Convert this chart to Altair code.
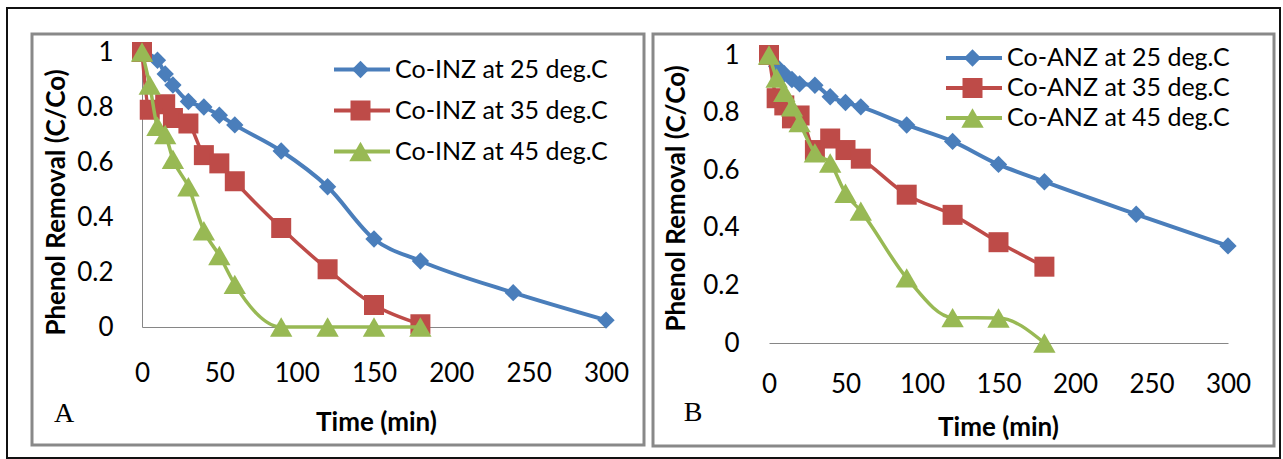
import altair as alt
import pandas as pd

# ---------------- data ----------------
names_A = ["Co-INZ at 25 deg.C", "Co-INZ at 35 deg.C", "Co-INZ at 45 deg.C"]
time_A25 = [0, 10, 15, 20, 30, 40, 50, 60, 90, 120, 150, 180, 240, 300]
val_A25 = [1.00, 0.97, 0.92, 0.88, 0.82, 0.80, 0.77, 0.735, 0.64, 0.51, 0.32, 0.24, 0.125, 0.025]
time_A35 = [0, 5, 15, 20, 30, 40, 50, 60, 90, 120, 150, 180]
val_A35 = [1.00, 0.79, 0.81, 0.76, 0.74, 0.625, 0.595, 0.53, 0.36, 0.21, 0.08, 0.01]
time_A45 = [0, 5, 10, 15, 20, 30, 40, 50, 60, 90, 120, 150, 180]
val_A45 = [1.00, 0.88, 0.73, 0.70, 0.61, 0.51, 0.35, 0.26, 0.155, 0.0, 0.0, 0.0, 0.0]

names_B = ["Co-ANZ at 25 deg.C", "Co-ANZ at 35 deg.C", "Co-ANZ at 45 deg.C"]
time_B25 = [0, 5, 10, 15, 20, 30, 40, 50, 60, 90, 120, 150, 180, 240, 300]
val_B25 = [1.00, 0.96, 0.935, 0.915, 0.90, 0.895, 0.855, 0.835, 0.82, 0.757, 0.70, 0.62, 0.56, 0.447, 0.337]
time_B35 = [0, 5, 10, 15, 20, 30, 40, 50, 60, 90, 120, 150, 180]
val_B35 = [1.00, 0.85, 0.825, 0.78, 0.79, 0.67, 0.71, 0.67, 0.64, 0.515, 0.445, 0.35, 0.265]
time_B45 = [0, 5, 10, 15, 20, 30, 40, 50, 60, 90, 120, 150, 180]
val_B45 = [1.00, 0.92, 0.87, 0.82, 0.765, 0.66, 0.625, 0.52, 0.458, 0.226, 0.088, 0.087, 0.0]

x_ticks = [0, 50, 100, 150, 200, 250, 300]
y_ticks = [0, 0.2, 0.4, 0.6, 0.8, 1.0]

colors = ["#4A7EBB", "#BE4B48", "#98B954"]
shapes = ["diamond", "square", "triangle-up"]
sizes = [300, 500, 480]
line_w = [4, 3.5, 3.5]
keys = ["m0", "m1", "m2"]

FONT = "Lato"


def make_df(names, times, values):
    rows = []
    for i, (n, ts, vs) in enumerate(zip(names, times, values)):
        for t, v in zip(ts, vs):
            rows.append({"series": n, "key": keys[i], "time": t, "value": v})
    return pd.DataFrame(rows)


df_A = make_df(names_A, [time_A25, time_A35, time_A45], [val_A25, val_A35, val_A45])
df_B = make_df(names_B, [time_B25, time_B35, time_B45], [val_B25, val_B35, val_B45])

one = pd.DataFrame({"a": [0]})


def panel(df, names, width, height, ymax, xaxis_kw, yaxis_kw, leg_line_kw, leg_mark_kw,
          frame, letter, letter_xy, outer=None):
    x = alt.X("time:Q", scale=alt.Scale(domain=[0, 300], nice=False, zero=False),
              axis=alt.Axis(values=x_ticks, ticks=False, tickSize=0, grid=False,
                            domainColor="#868686", domainWidth=1,
                            labelFont=FONT, labelFontSize=26, labelColor="black",
                            labelBaseline="middle", labelFlush=False,
                            title="Time (min)", titleFont=FONT, titleFontSize=26,
                            titleFontWeight="bold", titleColor="black",
                            titleAlign="center", titleBaseline="middle", **xaxis_kw))
    y = alt.Y("value:Q", scale=alt.Scale(domain=[0, ymax], nice=False, zero=False),
              axis=alt.Axis(values=y_ticks, format=".1~f", ticks=False, tickSize=0, grid=False,
                            domainColor="#868686", domainWidth=1,
                            labelFont=FONT, labelFontSize=26, labelColor="black",
                            labelFlush=False,
                            title="Phenol Removal (C/Co)", titleFont=FONT, titleFontSize=26,
                            titleFontWeight="bold", titleColor="black", titleAngle=270,
                            titleAlign="center", titleBaseline="middle", **yaxis_kw))
    leg_line = alt.Legend(orient="none", title=None, symbolType="stroke", symbolSize=3136,
                          symbolStrokeWidth=4, rowPadding=0, padding=0,
                          labelFont=FONT, labelFontSize=25, labelColor="black",
                          labelLimit=400, labelOffset=3, **leg_line_kw)
    leg_mark = alt.Legend(orient="none", title=None, rowPadding=0, padding=0,
                          labelExpr="''", symbolStrokeWidth=0, symbolOpacity=1,
                          **leg_mark_kw)
    layers = []
    if outer is not None:
        layers.append(alt.Chart(one).mark_rect(fill="transparent", stroke="#111111",
                                               strokeWidth=2).encode(
            x=alt.value(outer[0]), x2=alt.value(outer[1]),
            y=alt.value(outer[2]), y2=alt.value(outer[3])))
    layers.append(alt.Chart(one).mark_rect(fill="transparent", stroke="#898989",
                                           strokeWidth=3).encode(
        x=alt.value(frame[0]), x2=alt.value(frame[1]),
        y=alt.value(frame[2]), y2=alt.value(frame[3])))
    for i, name in enumerate(names):
        sub = alt.Chart(df).transform_filter(alt.datum.series == name)
        layers.append(sub.mark_line(strokeWidth=line_w[i], interpolate="monotone").encode(
            x=x, y=y, order="time:Q",
            stroke=alt.Stroke("series:N", scale=alt.Scale(domain=names, range=colors),
                              legend=leg_line)))
        layers.append(sub.mark_point(filled=True, opacity=1, strokeWidth=0).encode(
            x=x, y=y,
            fill=alt.Fill("key:N", scale=alt.Scale(domain=keys, range=colors), legend=leg_mark),
            shape=alt.Shape("key:N", scale=alt.Scale(domain=keys, range=shapes), legend=leg_mark),
            size=alt.Size("key:N", scale=alt.Scale(domain=keys, range=sizes), legend=leg_mark)))
    layers.append(alt.Chart(one).mark_text(text=letter, font="Liberation Serif", fontSize=28,
                                           color="black", align="center",
                                           baseline="middle").encode(
        x=alt.value(letter_xy[0]), y=alt.value(letter_xy[1])))
    return alt.layer(*layers).properties(width=width, height=height)


chart_A = panel(
    df_A, names_A, 464, 275, 1.0,
    xaxis_kw=dict(labelPadding=46, titleX=234, titleY=95),
    yaxis_kw=dict(labelPadding=29, titleX=-86, titleY=150, domain=True),
    leg_line_kw=dict(legendX=190, legendY=-3, clipHeight=41),
    leg_mark_kw=dict(legendX=207, legendY=-3, clipHeight=41),
    frame=(-110, 502, -18, 393), letter="A", letter_xy=(-78, 362),
    outer=(-135, 1138, -44, 406),
)

chart_B = panel(
    df_B, names_B, 459, 291, 291 / 288,
    xaxis_kw=dict(labelPadding=41, titleX=229, titleY=84),
    yaxis_kw=dict(labelPadding=30, titleX=-93, titleY=146, domain=False),
    leg_line_kw=dict(legendX=175, legendY=-9, clipHeight=30),
    leg_mark_kw=dict(legendX=192, legendY=-9, clipHeight=30),
    frame=(-116, 505, -18, 394), letter="B", letter_xy=(-76, 361),
)

chart = alt.hconcat(chart_A, chart_B, spacing=163, bounds="flush").resolve_scale(
    stroke="independent", fill="independent", shape="independent", size="independent",
    x="independent", y="independent",
).properties(
    padding={"left": 5, "top": 6, "right": 0, "bottom": 0},
    background="white",
).configure_view(stroke="transparent")

chart.save("out.html", embed_options={"renderer": "svg", "actions": False})
